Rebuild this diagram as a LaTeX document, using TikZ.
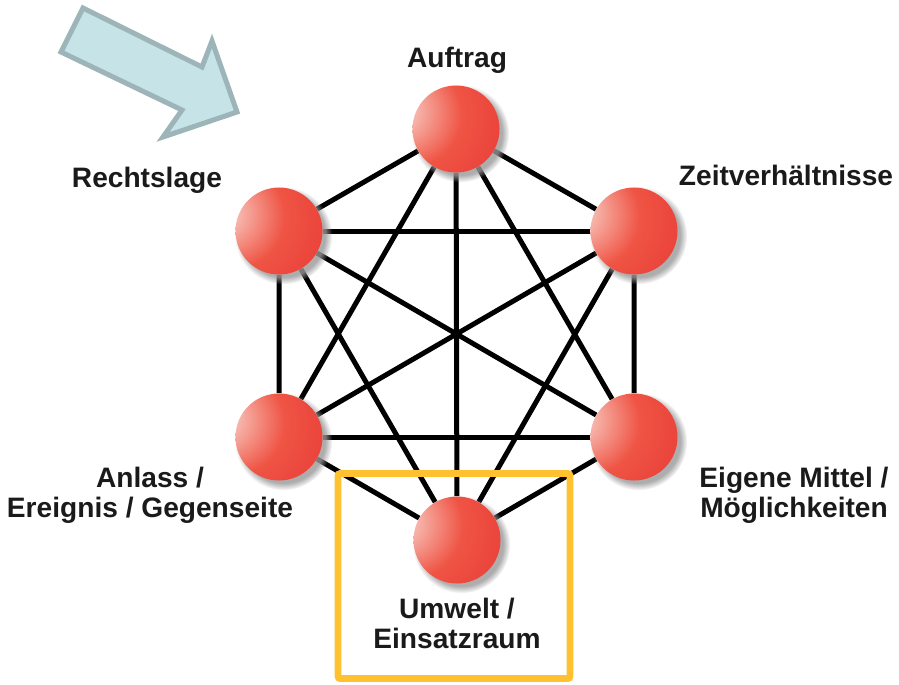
\documentclass[tikz,border=0pt]{standalone}
\usepackage{fontspec}
\setmainfont{Liberation Sans}
\usetikzlibrary{positioning, backgrounds, shadows}
\definecolor{BallLight}{HTML}{F9D2CA}
\definecolor{BallMid}{HTML}{EF5444}
\definecolor{BallDeep}{HTML}{E3242A}
\definecolor{ArrowFill}{HTML}{C6E4E7}
\definecolor{ArrowLine}{HTML}{9DB5B8}
\definecolor{FrameGold}{HTML}{FFC12F}
\definecolor{CText}{HTML}{1A1A1A}

\pgfdeclareradialshading{redball}{\pgfpoint{-38bp}{12bp}}{%
  color(0bp)=(BallLight); color(5bp)=(BallLight); color(30bp)=(BallMid);
  color(78bp)=(BallDeep); color(100bp)=(BallDeep)}

\tikzset{
  factor/.style={circle, minimum size=2.175cm, inner sep=0pt, shade, shading=redball,
    circular drop shadow={shadow xshift=0.1cm, shadow yshift=-0.1cm, opacity=0.8, shadow scale=1.12, fill=gray!80}},
  factorlabel/.style={font=\fontsize{20}{21}\selectfont\bfseries, text=CText, align=center, inner sep=0pt, anchor=base},
  link/.style={line width=0.125cm, black},
}

\begin{document}
\begin{tikzpicture}[x=0.025cm, y=-0.025cm]
    \useasboundingbox (0,0) rectangle (899,684);

    % Hint arrow
    \filldraw[fill=ArrowFill, draw=ArrowLine, line width=0.125cm, line join=miter]
        (83,8) -- (202,67) -- (212,41) -- (237,112) -- (163,137) -- (182,110) -- (61,52) -- cycle;

    % Factors
    \node[factor] (auf) at (456,129) {};
    \node[factor] (zeit) at (634,231) {};
    \node[factor] (mittel) at (634,437) {};
    \node[factor] (umw) at (457,540) {};
    \node[factor] (anl) at (279,437) {};
    \node[factor] (recht) at (279,231) {};

    % Links
    \begin{scope}[on background layer]
        % Hexagon
        \draw[link] (auf) -- (zeit) -- (mittel) -- (umw) -- (anl) -- (recht) -- (auf);
        % Short diagonals
        \draw[link] (auf) -- (mittel);
        \draw[link] (zeit) -- (umw);
        \draw[link] (mittel) -- (anl);
        \draw[link] (umw) -- (recht);
        \draw[link] (anl) -- (auf);
        \draw[link] (recht) -- (zeit);
        % Long diagonals
        \draw[link] (auf) -- (umw);
        \draw[link] (zeit) -- (anl);
        \draw[link] (recht) -- (mittel);
    \end{scope}

    % Labels (base = last line)
    \node[factorlabel] (aufL) at (457,67) {Auftrag};
    \node[factorlabel] (rechtL) at (147,187) {Rechtslage};
    \node[factorlabel] (zeitL) at (786,185) {Zeitverhältnisse};
    \node[factorlabel] (anlL) at (150,517) {Anlass /\\Ereignis / Gegenseite};
    \node[factorlabel] (mittelL) at (794,517) {Eigene Mittel /\\Möglichkeiten};
    \node[factorlabel] (umwL) at (457,648) {Umwelt /\\Einsatzraum};

    % Focus frame
    \draw[FrameGold, line width=0.165cm, rounded corners=0.05cm] (338,473.5) rectangle (570,678.5);
\end{tikzpicture}
\end{document}
